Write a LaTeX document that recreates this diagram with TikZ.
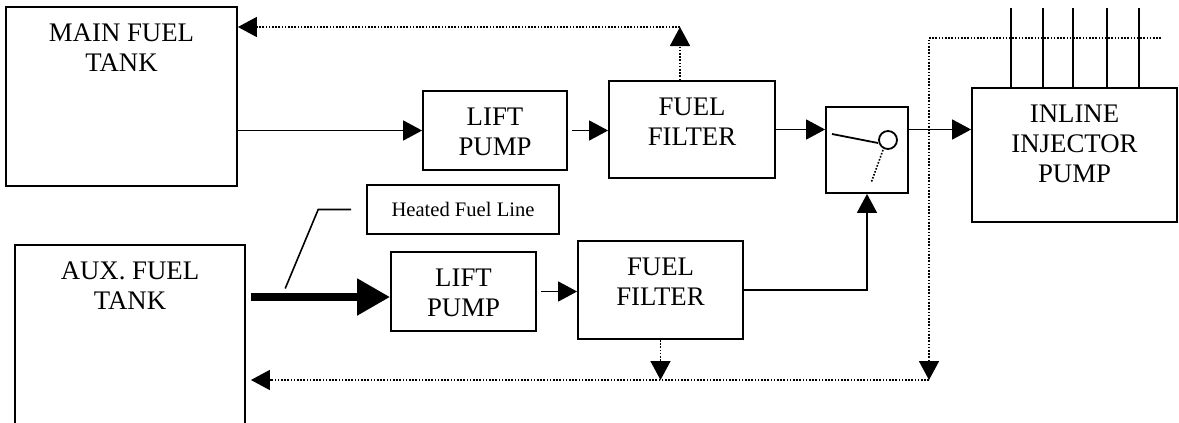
\documentclass[tikz,border=0pt]{standalone}
\usepackage{fontspec}
\setmainfont{Liberation Serif}
\usetikzlibrary{positioning,arrows.meta}

\begin{document}
\begin{tikzpicture}[x=0.5pt,y=-0.5pt,
    box/.style={draw, line width=0.9pt, inner sep=0pt},
    txt/.style={align=center, inner sep=0pt, font=\fontsize{13.4}{15}\selectfont},
    flow/.style={line width=0.8pt, -{Triangle[length=9.5pt,width=10pt]}},
    ret/.style={line width=0.8pt, dash pattern=on 0.8pt off 0.8pt},
    retarrow/.style={ret, -{Triangle[length=9.5pt,width=10pt]}},
    heavy/.style={line width=4pt, -{Triangle[length=16.5pt,width=17.5pt]}}]
        \clip (0,0) rectangle (1179,423);

        % Serbatoi
        \node[box, minimum width=115.5pt, minimum height=89.5pt] (main) at (121.5,96.5) {};
        \node[txt, below=8.5pt of main.north] (maintxt) {MAIN FUEL\\TANK};
        \node[box, minimum width=115pt, minimum height=95pt] (aux) at (130,340) {};
        \node[txt, below=8.5pt of aux.north] (auxtxt) {AUX. FUEL\\TANK};

        % Linea principale
        \node[box, minimum width=72pt, minimum height=39.5pt] (liftA) at (495,130.5) {};
        \node[txt, below=8.5pt of liftA.north] (liftAtxt) {LIFT\\PUMP};
        \node[box, minimum width=83pt, minimum height=48.5pt] (filtA) at (692,129.5) {};
        \node[txt, below=8.5pt of filtA.north] (filtAtxt) {FUEL\\FILTER};

        % Linea ausiliaria
        \node[box, minimum width=72.5pt, minimum height=39.5pt] (liftB) at (463.5,291.5) {};
        \node[txt, below=8.5pt of liftB.north] (liftBtxt) {LIFT\\PUMP};
        \node[box, minimum width=82.5pt, minimum height=49pt] (filtB) at (660.5,290) {};
        \node[txt, below=8.5pt of filtB.north] (filtBtxt) {FUEL\\FILTER};

        % Valvola e pompa iniezione
        \node[box, minimum width=41pt, minimum height=43pt] (valve) at (867,150) {};
        \node[box, minimum width=102.5pt, minimum height=67pt] (inj) at (1074.5,155) {};
        \node[txt, below=8.5pt of inj.north] (injtxt) {INLINE\\INJECTOR\\PUMP};

        % Etichetta linea riscaldata
        \node[box, line width=0.8pt, minimum width=96pt, minimum height=24.5pt,
          font=\fontsize{10.3}{12}\selectfont] (heat) at (463,209.5) {Heated Fuel Line};

        % Mandata
        \draw[flow] (main.east |- liftA.west) -- (liftA.west);
        \draw[flow, shorten <=2pt] (liftA.east) -- (filtA.west |- liftA.east);
        \draw[flow] (filtA.east) -- (valve.west |- filtA.east);
        \draw[flow] (valve.east |- filtA.east) -- (inj.west |- filtA.east);
        \coordinate (hin) at ([yshift=-2.75pt]liftB.west);
        \draw[heavy, shorten <=2.5pt] (aux.east |- hin) -- (hin);
        \draw[flow, shorten <=2pt] (liftB.east) -- (filtB.west |- liftB.east);
        \draw[flow] (filtB.east) -| (valve.south);

        % Indicatore linea riscaldata
        \draw[line width=0.8pt] ([xshift=-7.5pt]heat.west) -- ++(-33,0) -- ++(-33,79);

        % Valvola
        \begin{scope}[shift={(valve.center)}]
          \draw[line width=0.9pt] (-35,-16) -- (11,-7);
          \draw[line width=0.9pt] (21,-10) circle[radius=4.5pt];
          \draw[ret] (16,0) -- (4,33);
        \end{scope}

        % Tubi iniettori
        \foreach \x in {1011,1043,1073,1107,1139}
          \draw[line width=0.9pt] (\x,8) -- (\x,8 |- inj.north);

        % Ritorni
        \coordinate (retA) at (680,27);
        \draw[retarrow] (retA |- filtA.north) -- (retA);
        \draw[retarrow] (retA) -- (main.east |- retA);
        \coordinate (retin) at (1161,38);
        \coordinate (retB) at (929,380);
        \draw[retarrow] (retin) -| (retB);
        \draw[retarrow, shorten >=2.5pt] (retB) -- (aux.east |- retB);
        \draw[retarrow] (filtB.south) -- (filtB.south |- retB);
\end{tikzpicture}
\end{document}
